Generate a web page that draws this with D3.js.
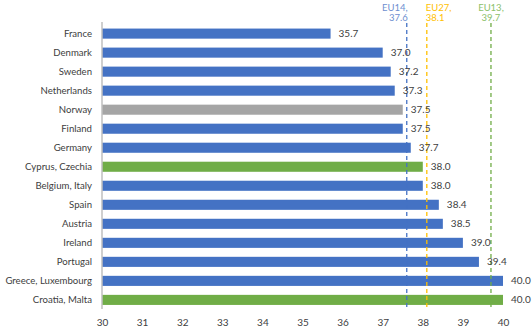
<!DOCTYPE html>
<html><head><meta charset="utf-8">
<script src="https://cdn.jsdelivr.net/npm/d3@7"></script>
<style>body{margin:0;background:#fff}svg{display:block}text{font-family:Lato,"Liberation Sans",sans-serif}</style>
</head><body><div id="chart"></div>
<script>
const categories = ["France","Denmark","Sweden","Netherlands","Norway","Finland","Germany","Cyprus, Czechia","Belgium, Italy","Spain","Austria","Ireland","Portugal","Greece, Luxembourg","Croatia, Malta"];
const values = [35.7,37.0,37.2,37.3,37.5,37.5,37.7,38.0,38.0,38.4,38.5,39.0,39.4,40.0,40.0];
const groups = ["EU14","EU14","EU14","EU14","other","EU14","EU14","EU13","EU14","EU14","EU14","EU14","EU14","EU14","EU13"];
const refNames = ["EU14","EU27","EU13"];
const refValues = [37.6,38.1,39.7];
const xTicks = [30,31,32,33,34,35,36,37,38,39,40];

const W=532,H=331;
const colors={EU14:"#4472C4",EU13:"#70AD47",other:"#A5A5A5"};
const refColors={EU14:"#4472C4",EU27:"#FFC000",EU13:"#70AD47"};
const refText={EU14:"#6E8FD0",EU27:"#FFC000",EU13:"#8CBF6A"};
const refAnchor={EU14:"end",EU27:"start",EU13:"middle"};

const svg=d3.select("#chart").append("svg").attr("width",W).attr("height",H);
const x=d3.scaleLinear().domain([30,40]).range([102,503]);
const y=d3.scaleBand().domain(categories).range([24,309.5]).paddingInner(0.47).paddingOuter(0.24);

svg.append("g").selectAll("rect").data(categories).join("rect")
  .attr("x",x(30)).attr("y",d=>y(d)).attr("height",y.bandwidth())
  .attr("width",(d,i)=>x(values[i])-x(30))
  .attr("fill",(d,i)=>colors[groups[i]]);

svg.append("line").attr("x1",x(30)).attr("x2",x(30)).attr("y1",22).attr("y2",309)
  .attr("stroke","#BFBFBF").attr("stroke-width",1.5);

refNames.forEach((n,i)=>{
  const xv=x(refValues[i]);
  svg.append("line").attr("x1",xv).attr("x2",xv).attr("y1",23).attr("y2",309)
    .attr("stroke",refColors[n]).attr("stroke-width",1.3).attr("stroke-dasharray","4,3");
  const tx=xv+(refAnchor[n]==="end"?1:refAnchor[n]==="start"?-1:0);
  const t=svg.append("text").attr("text-anchor",refAnchor[n]).attr("fill",refText[n]).attr("font-size",9.5);
  t.append("tspan").attr("x",tx).attr("y",11).text(n+",");
  t.append("tspan").attr("x",tx).attr("y",21).text(refValues[i].toFixed(1));
});

svg.append("g").selectAll("text").data(categories).join("text")
  .attr("x",(d,i)=>x(values[i])+8).attr("y",d=>y(d)+y.bandwidth()/2).attr("dy","0.35em")
  .attr("font-size",10).attr("fill","#404040")
  .text((d,i)=>values[i].toFixed(1));

const yAxis=d3.axisLeft(y).tickSize(0).tickPadding(10);
const gy=svg.append("g").attr("transform",`translate(${x(30)},0)`).call(yAxis);
gy.select(".domain").remove();
gy.selectAll("text").attr("font-size",9.6).attr("fill","#404040").attr("font-family","Lato, sans-serif");

const xAxis=d3.axisBottom(x).tickValues(xTicks).tickSize(0).tickPadding(7).tickFormat(d3.format("d"));
const gx=svg.append("g").attr("transform","translate(0,312)").call(xAxis);
gx.select(".domain").remove();
gx.selectAll("text").attr("font-size",10).attr("fill","#404040").attr("font-family","Lato, sans-serif");
</script></body></html>
